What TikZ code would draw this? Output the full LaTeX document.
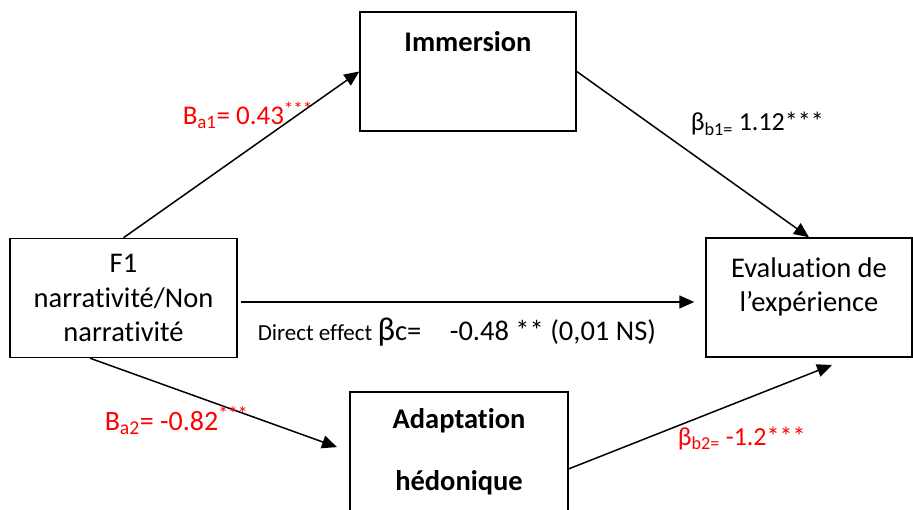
\documentclass[tikz,border=0pt]{standalone}
\usepackage{fontspec}
\setmainfont[Ligatures=NoCommon]{Carlito}
\usetikzlibrary{arrows.meta}

\tikzset{
  box/.style={draw, line width=1.5pt, minimum height=119pt, inner sep=0pt},
  lbl/.style={anchor=base west, inner sep=0pt},
  boxfont/.style={font=\fontsize{28.5}{34.5}\selectfont}
}

\begin{document}
\begin{tikzpicture}[x=1pt, y=-1pt, >={Triangle[length=15pt,width=13pt]}, line width=1.5pt]
  \useasboundingbox (0,0) rectangle (913,510);
  % the four variables
  \node[box, boxfont, minimum width=227pt, align=center] (f1) at (123.5,298)
    {F1\\narrativité/Non\\narrativité};
  \node[box, minimum width=216pt] (imm) at (468,71.5) {};
  \node[font=\fontsize{28.5}{34.5}\selectfont\bfseries] (immtext) at (468,42) {Immersion};
  \node[box, minimum width=206pt] (eval) at (809,297.5) {};
  \node[boxfont, align=center] (evaltext) at (809,287) {Evaluation de\\l’expérience};
  \node[box, minimum width=218pt, align=center,
        font=\fontsize{28.5}{62}\selectfont\bfseries] (adapt) at (459,451.5)
    {Adaptation\\hédonique};
  % paths
  \coordinate (b2tip) at (832,365);
  \draw[->] (f1.north) -- (imm.west);
  \draw[->] (imm.east) -- (eval.north);
  \draw[->, shorten <=3pt, shorten >=11pt] (f1.-2) -- (f1.-2 -| eval.west);
  \draw[->, shorten >=13pt] (f1.-119) -- (adapt.west);
  \draw[->] (adapt.-9) -- (b2tip);
  % coefficients
  \node[lbl, red, font=\fontsize{27}{27}\selectfont] (ba1) at (182,125)
    {B\textsubscript{a1}= 0.43\textsuperscript{***}};
  \node[lbl, font=\fontsize{26}{26}\selectfont] (bb1) at (690,131)
    {β\textsubscript{b1=} 1.12***};
  \node[lbl, font=\fontsize{28.5}{28.5}\selectfont] (direct) at (257,341)
    {{\fontsize{23}{23}\selectfont Direct effect }{\fontsize{33}{33}\selectfont β}c=\quad -0.48 ** (0,01 NS)};
  \node[lbl, red, font=\fontsize{28}{28}\selectfont] (ba2) at (104,430)
    {B\textsubscript{a2}= -0.82\textsuperscript{***}};
  \node[lbl, red, font=\fontsize{26}{26}\selectfont] (bb2) at (677,445)
    {β\textsubscript{b2=} -1.2***};
\end{tikzpicture}
\end{document}
